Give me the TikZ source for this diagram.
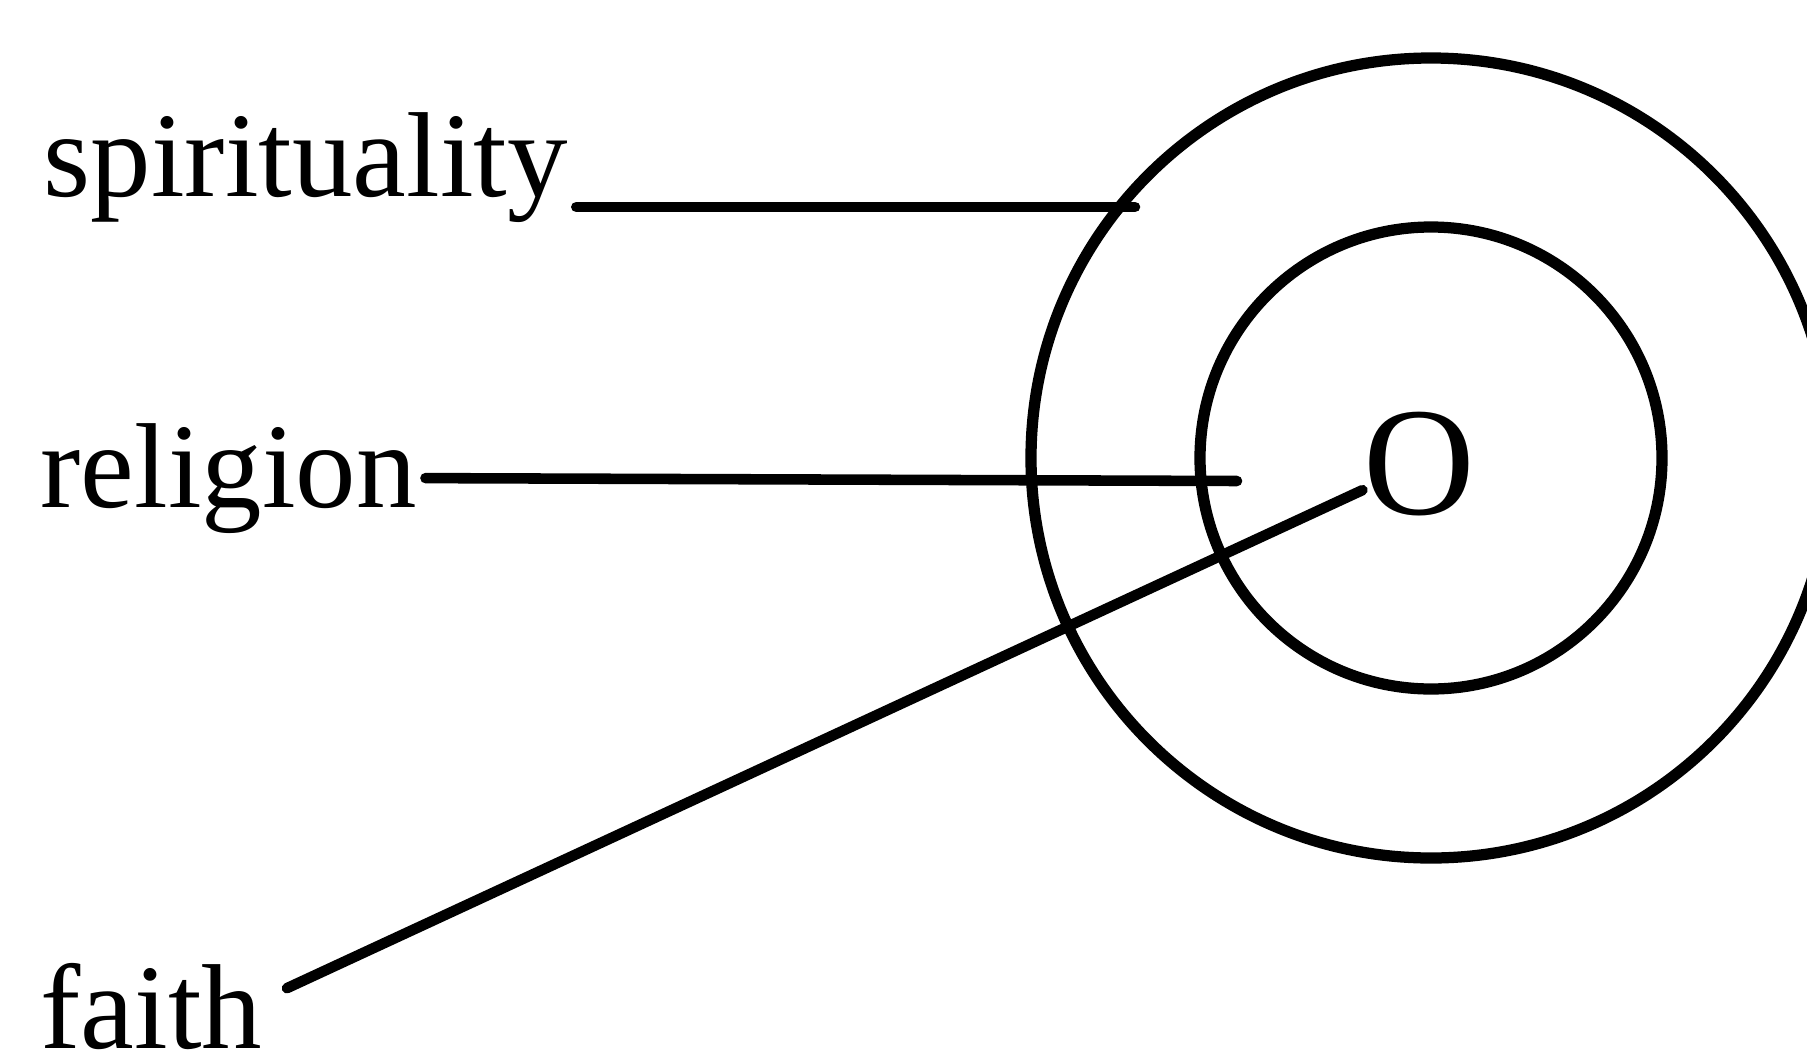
\documentclass[tikz,border=0pt]{standalone}
\usepackage{fontspec}
\setmainfont{Liberation Serif}

\begin{document}
\begin{tikzpicture}[
    ring/.style={line width=3.2pt},
    leader/.style={line width=3pt, line cap=round},
    lbl/.style={inner sep=0pt, anchor=base west, font=\fontsize{34.4}{40}\selectfont}
  ]
  % page frame
  \clip (0,0) rectangle (18.07,10.61);
  \useasboundingbox (0,0) rectangle (18.07,10.61);

  % rings: center (14.31,6.03)
  \draw[ring] (14.31,6.03) circle (4.00);
  \draw[ring] (14.31,6.03) circle (2.31);

  % centre point
  \node[inner sep=0pt, font=\fontsize{44}{50}\selectfont] (o) at (14.19,5.97) {O};

  % labels
  \node[lbl] (spirit) at (0.43,8.65) {spirituality};
  \node[lbl] (relig) at (0.40,5.54) {religion};
  \node[lbl] (faith) at (0.40,0.13) {faith};

  % free ends of the leaders
  \coordinate (sp-tip) at (11.35,8.54);
  \coordinate (rl-tip) at (12.37,5.80);

  % leaders
  \draw[leader] ([shift={(0.08,-0.11)}]spirit.base east) -- (sp-tip);
  \draw[leader] ([xshift=0.08cm]relig.east) -- (rl-tip);
  \draw[leader] ([shift={(0.24,-0.26)}]faith.north east) -- (o);
\end{tikzpicture}
\end{document}
